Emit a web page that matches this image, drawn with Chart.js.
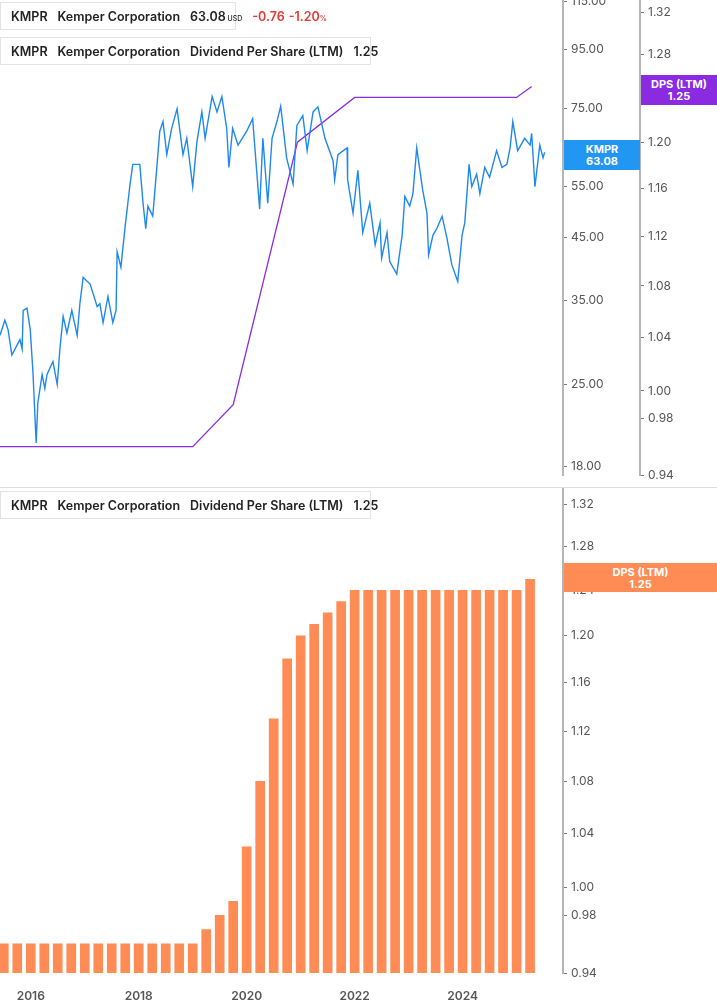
<!DOCTYPE html>
<html><head><meta charset="utf-8">
<script src="https://cdn.jsdelivr.net/npm/chart.js@4"></script>
<style>
body{margin:0;width:717px;height:1005px;position:relative;background:#fff;font-family:Inter,"Noto Sans",sans-serif;overflow:hidden}
#c1{position:absolute;left:0;top:-10px}
#c2{position:absolute;left:0;top:478px}
.leg{position:absolute;left:0;height:28px;border:1px solid #e3e3e3;background:#fff;font-size:12.5px;font-weight:600;color:#222;display:flex;align-items:center;white-space:nowrap;box-sizing:border-box}
.leg .bar{width:4px;height:20px;margin:0 6px 0 4px;border-radius:1px}
.leg span{margin-right:10px}
.tag{position:absolute;color:#fff;font-size:11px;font-weight:700;text-align:center;line-height:12px;display:flex;flex-direction:column;justify-content:center}
#sep{position:absolute;left:0;top:487px;width:717px;height:1px;background:#ddd}
</style></head><body>
<canvas id="c1" width="717" height="497"></canvas>
<canvas id="c2" width="717" height="527"></canvas>
<div id="sep"></div>
<div class="leg" style="top:2px;width:236px"><div class="bar" style="background:#2196f3"></div><span>KMPR</span><span>Kemper Corporation</span><span>63.08<small style="font-size:7px;font-weight:500"> USD</small></span><span style="color:#e53935;margin-right:4px">-0.76</span><span style="color:#e53935">-1.20<small style="font-size:7px">%</small></span></div>
<div class="leg" style="top:37px;width:371px"><div class="bar" style="background:#8a2be2"></div><span>KMPR</span><span>Kemper Corporation</span><span>Dividend Per Share (LTM)</span><span>1.25</span></div>
<div class="leg" style="top:491px;width:371px"><div class="bar" style="background:#ff8c55"></div><span>KMPR</span><span>Kemper Corporation</span><span>Dividend Per Share (LTM)</span><span>1.25</span></div>
<div class="tag" style="left:564px;top:140px;width:76px;height:30px;background:#2196f3">KMPR<br>63.08</div>
<div class="tag" style="left:641px;top:75px;width:76px;height:30px;background:#8a2be2">DPS (LTM)<br>1.25</div>
<div class="tag" style="left:564px;top:563px;width:153px;height:29px;background:#ff8c55">DPS (LTM)<br>1.25</div>
<script>
const priceDates=[2015.43,2015.52,2015.58,2015.65,2015.80,2015.84,2015.86,2015.93,2015.99,2016.04,2016.10,2016.13,2016.21,2016.26,2016.30,2016.41,2016.49,2016.54,2016.60,2016.67,2016.76,2016.86,2016.91,2016.97,2017.10,2017.23,2017.28,2017.34,2017.43,2017.52,2017.58,2017.60,2017.67,2017.75,2017.84,2017.89,2018.02,2018.08,2018.13,2018.17,2018.26,2018.34,2018.39,2018.45,2018.52,2018.61,2018.71,2018.82,2018.89,2019.00,2019.08,2019.17,2019.23,2019.36,2019.45,2019.54,2019.63,2019.67,2019.74,2019.84,2020.00,2020.11,2020.24,2020.30,2020.39,2020.47,2020.56,2020.63,2020.74,2020.86,2020.93,2021.04,2021.12,2021.23,2021.32,2021.45,2021.60,2021.63,2021.69,2021.86,2021.87,2021.97,2022.06,2022.15,2022.28,2022.38,2022.47,2022.50,2022.60,2022.65,2022.78,2022.88,2022.93,2023.02,2023.08,2023.15,2023.26,2023.34,2023.37,2023.45,2023.52,2023.62,2023.71,2023.80,2023.91,2023.99,2024.04,2024.12,2024.17,2024.26,2024.32,2024.41,2024.50,2024.63,2024.73,2024.82,2024.88,2024.93,2025.02,2025.15,2025.25,2025.28,2025.34,2025.43,2025.49,2025.52];
const priceValues=[30.4,32.3,31.1,28.1,29.9,28.8,33.6,33.9,31.1,26.3,19.8,23.2,26.0,24.6,26.0,27.4,25.0,28.8,32.8,30.7,33.6,30.4,34.5,38.3,37.3,34.1,34.5,32.0,35.5,32.0,33.6,42.4,39.9,47.1,55.6,60.1,60.1,51.5,46.5,50.9,48.9,60.1,68.6,71.3,62.5,69.4,75.0,62.5,66.7,55.0,66.0,74.1,66.7,78.8,74.1,78.8,69.4,59.4,69.4,64.9,68.6,72.1,50.3,66.7,51.5,66.7,71.3,75.8,61.7,55.6,70.2,73.0,63.5,74.1,75.6,66.7,61.0,56.5,62.5,64.2,56.5,49.5,58.7,45.8,51.5,43.6,47.6,41.4,45.8,40.8,38.8,45.3,52.9,50.9,53.5,64.2,54.3,49.5,41.9,45.3,46.5,48.9,44.8,40.3,37.7,45.3,47.6,60.1,55.0,57.8,53.5,59.4,57.1,63.5,59.4,60.1,64.2,71.3,63.5,66.7,64.9,68.0,55.0,64.9,61.7,63.1];
const dpsLineDates=[2015.43,2019.0,2019.75,2020.94,2022.0,2025.0,2025.28];
const dpsLineValues=[0.96,0.96,0.99,1.20,1.24,1.24,1.25];
const barDates=[];for(let i=0;i<40;i++)barDates.push(2015.5+i*0.25);
const barValues=[0.96,0.96,0.96,0.96,0.96,0.96,0.96,0.96,0.96,0.96,0.96,0.96,0.96,0.96,0.96,0.97,0.98,0.99,1.03,1.08,1.13,1.18,1.20,1.21,1.22,1.23,1.24,1.24,1.24,1.24,1.24,1.24,1.24,1.24,1.24,1.24,1.24,1.24,1.24,1.25];
const priceTicks=[115,95,75,55,45,35,25,18];
const dpsTicks=[1.32,1.28,1.24,1.20,1.16,1.12,1.08,1.04,1.00,0.98,0.94];
const xTicks=[2016,2018,2020,2022,2024];

const zip=(a,b)=>a.map((x,i)=>({x,y:b[i]}));
const tickFont={family:'Inter',size:12};
function rightAxis(min,max,ticks,dec,w){
  return {type:'logarithmic',position:'right',min,max,
    afterBuildTicks:s=>{s.ticks=ticks.map(v=>({value:v}));},
    afterFit:s=>{s.width=w;},
    border:{display:true,color:'#b5b5b5',width:2},
    grid:{drawOnChartArea:false,drawTicks:true,tickLength:4,color:'#777'},
    ticks:{color:'#555',font:tickFont,padding:4,callback:v=>Number(v).toFixed(dec),autoSkip:false}};
}
const xScale=(disp)=>({type:'linear',min:2015.43,max:2025.86,display:disp,offset:false,
  afterBuildTicks:s=>{s.ticks=xTicks.map(v=>({value:v}));},
  afterFit:s=>{s.height=disp?32:0;},
  grid:{display:false,offset:false},border:{display:false},
  ticks:{color:'#555',font:{family:'Inter',size:12,weight:'600'},callback:v=>String(v),padding:8}});

new Chart(document.getElementById('c1'),{
  type:'line',
  data:{datasets:[
    {data:zip(priceDates,priceValues),yAxisID:'yP',borderColor:'#1e88f0',borderWidth:1.4,pointRadius:0,tension:0},
    {data:zip(dpsLineDates,dpsLineValues),yAxisID:'yD',borderColor:'#8a2be2',borderWidth:1.3,pointRadius:0,tension:0}
  ]},
  options:{responsive:false,animation:false,layout:{padding:0},
    plugins:{legend:{display:false},tooltip:{enabled:false}},
    scales:{x:xScale(false),
      yP:rightAxis(17.37,115.2,priceTicks,2,77),
      yD:rightAxis(0.9397,1.3306,dpsTicks,2,77)}}
});
new Chart(document.getElementById('c2'),{
  type:'bar',
  data:{datasets:[{data:zip(barDates,barValues),backgroundColor:'#ff8c55',barThickness:9,yAxisID:'y'}]},
  options:{responsive:false,animation:false,layout:{padding:0},
    plugins:{legend:{display:false},tooltip:{enabled:false}},
    scales:{x:xScale(true),y:rightAxis(0.94,1.3343,dpsTicks,2,154)}}
});
</script></body></html>
